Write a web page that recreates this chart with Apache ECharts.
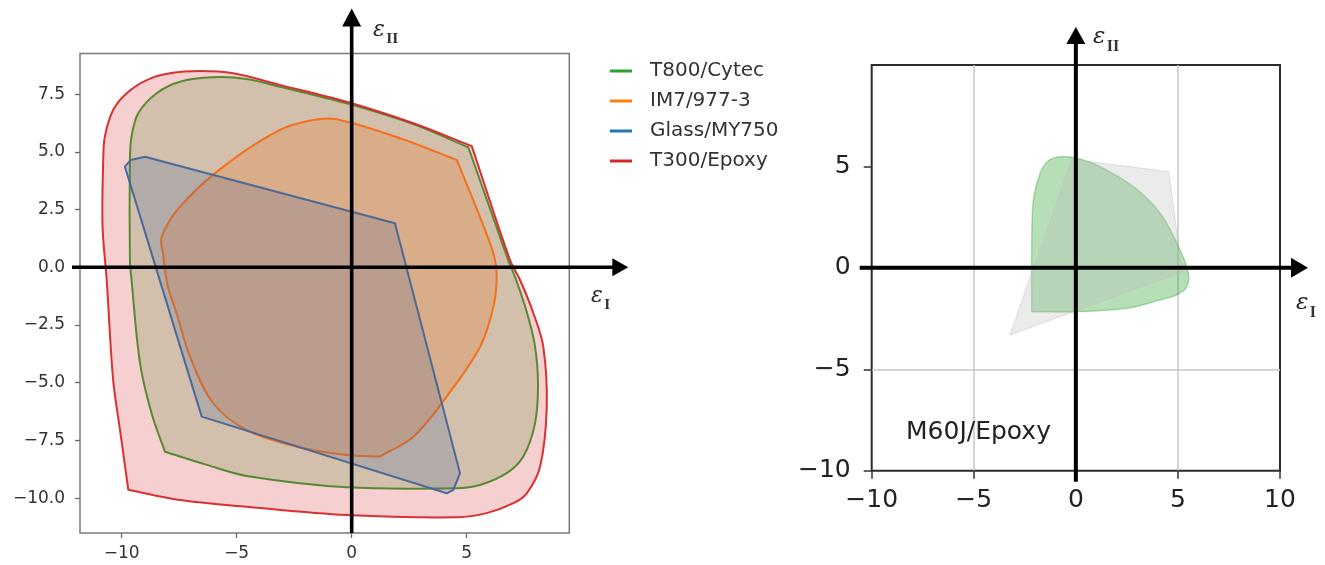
<!DOCTYPE html>
<html>
<head>
<meta charset="utf-8">
<script src="https://cdn.jsdelivr.net/npm/echarts@6/dist/echarts.min.js"></script>
<style>
  html, body { margin: 0; padding: 0; background: #ffffff; }
  #chart { width: 1325px; height: 565px; }
</style>
</head>
<body>
<div id="chart"></div>
<script>
// Failure envelopes in principal strain space (εI, εII), each as a closed outline of [εI, εII] points.
const t800Cytec = [
  [-9.64, 0.32], [-9.64, 4.65], [-9.57, 5.66], [-9.28, 6.67], [-8.48, 7.54], [-7.47, 8.04],
  [-6.02, 8.23], [-4.57, 8.16], [-3.12, 7.82], [-0.22, 7.1], [2.68, 6.2], [5.07, 5.2],
  [6.8, 0.32], [7.15, -0.55], [7.6, -1.9], [7.95, -3.3], [8.1, -5.0], [7.97, -6.76], [7.46, -8.2],
  [6.74, -8.92], [5.58, -9.43], [4.57, -9.57], [-0.22, -9.53], [-4.57, -9.04], [-6.3, -8.56],
  [-8.12, -7.99], [-8.7, -6.32], [-9.2, -4.16], [-9.57, -0.55]
];
const im7_977_3 = [
  [-8.26, 1.32], [-7.47, 2.62], [-5.58, 4.36], [-3.12, 5.95], [-1.67, 6.38], [-0.65, 6.41],
  [2.1, 5.59], [4.57, 4.65], [6.07, 0.89], [6.3, -0.26], [6.16, -1.71], [5.58, -3.44],
  [4.13, -5.6], [2.68, -7.34], [1.23, -8.2], [-0.22, -8.13], [-2.39, -7.77], [-4.57, -7.05],
  [-6.02, -5.89], [-7.03, -3.87], [-7.61, -1.99], [-8.0, -0.8], [-8.2, 0.6]
];
const glassMY750 = [
  [-9.86, 4.36], [-9.6, 4.65], [-8.99, 4.79], [1.88, 1.91], [4.71, -8.92], [4.42, -9.64],
  [4.13, -9.79], [-6.52, -6.47]
];
const t300Epoxy = [
  [-10.83, 1.76], [-10.8, 4.65], [-10.73, 5.66], [-10.37, 6.81], [-9.78, 7.54], [-8.91, 8.11],
  [-7.9, 8.4], [-6.6, 8.5], [-5.15, 8.4], [-3.12, 7.9], [-0.22, 7.17], [2.68, 6.24],
  [5.22, 5.25], [6.88, 0.32], [7.32, -0.55], [7.9, -1.99], [8.33, -3.44], [8.48, -6.04],
  [8.19, -8.64], [7.61, -9.79], [7.03, -10.22], [5.87, -10.65], [4.57, -10.83], [-0.22, -10.73],
  [-4.57, -10.37], [-7.47, -10.08], [-9.71, -9.64], [-10.07, -7.05], [-10.37, -4.88], [-10.65, -0.55]
];
const m60jEpoxy = [
  [-0.77, 5.48], [0.04, 5.4], [1.19, 4.99], [2.82, 4.0], [4.13, 2.69], [5.11, 0.88],
  [5.51, -0.27], [5.44, -0.93], [5.0, -1.3], [4.13, -1.58], [2.5, -1.99], [0.04, -2.16],
  [-2.16, -2.16], [-2.16, 1.38], [-2.08, 3.35], [-1.75, 4.66], [-1.35, 5.28]
];
const m60jEpoxyEnvelope = [
  [-3.23, -3.31], [-0.2, 5.35], [4.55, 4.74], [5.2, -0.2]
];

// Indices of sharp vertices in each outline (all other vertices are passed through smoothly).
const t800Corners = [11, 25];
const im7Corners = [7, 14];
const t300Corners = [12, 26];
const m60jCorners = [12];

const leftNames = ['T800/Cytec', 'IM7/977-3', 'Glass/MY750', 'T300/Epoxy'];
const leftXTicks = [-10, -5, 0, 5];
const leftYTicks = [-10, -7.5, -5, -2.5, 0, 2.5, 5, 7.5];
const rightXTicks = [-10, -5, 0, 5, 10];
const rightYTicks = [-10, -5, 0, 5];
const panelLabel = 'M60J/Epoxy';

const MINUS = '\u2212';
const fmtInt = v => (v < 0 ? MINUS : '') + Math.abs(v);
const fmtOne = v => (v < 0 ? MINUS : '') + Math.abs(v).toFixed(1);

function rgba(hex, a) {
  const n = parseInt(hex.slice(1), 16);
  return 'rgba(' + (n >> 16 & 255) + ',' + (n >> 8 & 255) + ',' + (n & 255) + ',' + a + ')';
}

// Closed path through pixel points: cubic segments whose handles follow the neighbour
// direction and scale with each segment's own length; sharp vertices keep straight handles.
function outlinePath(P, corners, smooth) {
  const n = P.length;
  const f = v => v.toFixed(2);
  const unit = (a, b) => { const dx = b[0] - a[0], dy = b[1] - a[1], l = Math.hypot(dx, dy) || 1; return [dx / l, dy / l]; };
  const tangent = i => unit(P[(i - 1 + n) % n], P[(i + 1) % n]);
  let d = 'M' + f(P[0][0]) + ' ' + f(P[0][1]);
  for (let i = 0; i < n; i++) {
    const j = (i + 1) % n;
    const p1 = P[i], p2 = P[j];
    if (!smooth) { d += ' L' + f(p2[0]) + ' ' + f(p2[1]); continue; }
    const L = Math.hypot(p2[0] - p1[0], p2[1] - p1[1]) / 3;
    const t1 = corners.has(i) ? unit(p1, p2) : tangent(i);
    const t2 = corners.has(j) ? unit(p1, p2) : tangent(j);
    const c1 = [p1[0] + t1[0] * L, p1[1] + t1[1] * L];
    const c2 = [p2[0] - t2[0] * L, p2[1] - t2[1] * L];
    d += ' C' + f(c1[0]) + ' ' + f(c1[1]) + ' ' + f(c2[0]) + ' ' + f(c2[1]) + ' ' + f(p2[0]) + ' ' + f(p2[1]);
  }
  return d + ' Z';
}

// One filled outline per series, drawn through the axis scales of its grid.
function outlineSeries(name, pts, color, opts) {
  const corners = new Set(opts.corners || []);
  return {
    type: 'custom',
    name: name,
    xAxisIndex: opts.grid,
    yAxisIndex: opts.grid,
    data: pts,
    encode: { x: 0, y: 1 },
    silent: true,
    z: opts.z,
    itemStyle: { color: color },
    renderItem: function (params, api) {
      if (params.dataIndex !== 0) return null;
      const points = pts.map(p => api.coord(p));
      return {
        type: 'path',
        shape: { pathData: outlinePath(points, corners, opts.smooth) },
        style: {
          fill: rgba(color, opts.fillAlpha),
          stroke: rgba(color, opts.strokeAlpha),
          lineWidth: opts.lineWidth,
          lineJoin: 'round'
        }
      };
    }
  };
}

const FONT = 'DejaVu Sans';
const leftGrid = { left: 80, top: 53.5, width: 489.3, height: 479.5 };
const rightGrid = { left: 871.7, top: 65, width: 408.3, height: 405.7 };

const chart = echarts.init(document.getElementById('chart'), null, { renderer: 'canvas' });

const rightSplit = { show: true, showMinLine: false, showMaxLine: false, lineStyle: { color: '#c6c6c6', width: 1.5 } };

const option = {
  animation: false,
  backgroundColor: '#ffffff',
  grid: [
    Object.assign({ show: true, borderColor: '#7a7a7a', borderWidth: 1.5, backgroundColor: 'transparent' }, leftGrid),
    Object.assign({ show: true, borderColor: '#2b2b2b', borderWidth: 2, backgroundColor: 'transparent' }, rightGrid)
  ],
  xAxis: [
    {
      gridIndex: 0, type: 'value', min: -11.81, max: 9.46,
      axisLine: { show: false, onZero: false },
      splitLine: { show: false },
      axisTick: { show: true, length: 5, customValues: leftXTicks, lineStyle: { color: '#6a6a6a', width: 1.3 } },
      axisLabel: { customValues: leftXTicks, formatter: fmtInt, margin: 12, fontFamily: FONT, fontSize: 17, color: '#333' }
    },
    {
      gridIndex: 1, type: 'value', min: -10, max: 10, interval: 5,
      axisLine: { show: false, onZero: false },
      splitLine: rightSplit,
      axisTick: { show: true, length: 8, customValues: rightXTicks, lineStyle: { color: '#333', width: 1.5 } },
      axisLabel: { customValues: rightXTicks, formatter: fmtInt, margin: 17, fontFamily: FONT, fontSize: 25, color: '#222' }
    }
  ],
  yAxis: [
    {
      gridIndex: 0, type: 'value', min: -11.51, max: 9.26,
      axisLine: { show: false, onZero: false },
      splitLine: { show: false },
      axisTick: { show: true, length: 5, customValues: leftYTicks, lineStyle: { color: '#6a6a6a', width: 1.3 } },
      axisLabel: { customValues: leftYTicks, formatter: fmtOne, margin: 15, fontFamily: FONT, fontSize: 17, color: '#333' }
    },
    {
      gridIndex: 1, type: 'value', min: -10, max: 10, interval: 5,
      axisLine: { show: false, onZero: false },
      splitLine: rightSplit,
      axisTick: { show: true, length: 8, customValues: rightYTicks, lineStyle: { color: '#333', width: 1.5 } },
      axisLabel: { customValues: rightYTicks, formatter: fmtInt, margin: 21, fontFamily: FONT, fontSize: 25, color: '#222' }
    }
  ],
  legend: {
    data: leftNames,
    orient: 'vertical',
    left: 605, top: 56,
    icon: 'rect',
    itemWidth: 22, itemHeight: 3, itemGap: 10,
    selectedMode: false,
    textStyle: { fontFamily: FONT, fontSize: 20, color: '#333', padding: [0, 0, 0, 13] }
  },
  series: [
    outlineSeries(leftNames[0], t800Cytec, '#2ca02c', { grid: 0, z: 2, fillAlpha: 0.22, strokeAlpha: 0.95, lineWidth: 2, smooth: true, corners: t800Corners }),
    outlineSeries(leftNames[1], im7_977_3, '#ff7f0e', { grid: 0, z: 3, fillAlpha: 0.22, strokeAlpha: 0.95, lineWidth: 2, smooth: true, corners: im7Corners }),
    outlineSeries(leftNames[2], glassMY750, '#1f77b4', { grid: 0, z: 4, fillAlpha: 0.22, strokeAlpha: 0.95, lineWidth: 2, smooth: false }),
    outlineSeries(leftNames[3], t300Epoxy, '#d62728', { grid: 0, z: 5, fillAlpha: 0.22, strokeAlpha: 0.95, lineWidth: 2, smooth: true, corners: t300Corners }),
    outlineSeries(panelLabel, m60jEpoxy, '#2ca02c', { grid: 1, z: 2, fillAlpha: 0.34, strokeAlpha: 0.35, lineWidth: 1.5, smooth: true, corners: m60jCorners }),
    outlineSeries(panelLabel + ' envelope', m60jEpoxyEnvelope, '#bdbdbd', { grid: 1, z: 3, fillAlpha: 0.3, strokeAlpha: 0.45, lineWidth: 1, smooth: false })
  ]
};
chart.setOption(option);

// Principal strain axes with arrow heads, crossing at the origin of each panel.
function arrowElements(from, tip, width, headLen, headHalf) {
  const dx = tip[0] - from[0], dy = tip[1] - from[1];
  const len = Math.hypot(dx, dy);
  const ux = dx / len, uy = dy / len;
  const bx = tip[0] - ux * headLen, by = tip[1] - uy * headLen;
  return [
    { type: 'line', z: 100, shape: { x1: from[0], y1: from[1], x2: bx + ux, y2: by + uy },
      style: { stroke: '#000', lineWidth: width } },
    { type: 'polygon', z: 100, shape: { points: [tip, [bx - uy * headHalf, by + ux * headHalf], [bx + uy * headHalf, by - ux * headHalf]] },
      style: { fill: '#000' } }
  ];
}

function epsLabel(x, y, sub, size) {
  return [
    { type: 'text', z: 101, x: x, y: y,
      style: { text: 'ε', font: 'italic ' + size + 'px "DejaVu Serif"', fill: '#222', verticalAlign: 'middle', align: 'left' } },
    { type: 'text', z: 101, x: x + size * 0.6, y: y + size * 0.42,
      style: { text: sub, font: 'bold ' + (size * 0.7).toFixed(1) + 'px "Liberation Serif"', fill: '#333', verticalAlign: 'middle', align: 'left' } }
  ];
}

const o0 = chart.convertToPixel({ xAxisIndex: 0, yAxisIndex: 0 }, [0, 0]);
const o1 = chart.convertToPixel({ xAxisIndex: 1, yAxisIndex: 1 }, [0, 0]);
const L0 = leftGrid.left, T0 = leftGrid.top, R0 = L0 + leftGrid.width, B0 = T0 + leftGrid.height;
const L1 = rightGrid.left, T1 = rightGrid.top, R1 = L1 + rightGrid.width, B1 = T1 + rightGrid.height;

const graphics = [].concat(
  arrowElements([L0 - 8, o0[1]], [R0 + 59, o0[1]], 3.6, 16, 9),
  arrowElements([o0[0], B0], [o0[0], T0 - 45], 3.6, 18, 9.5),
  arrowElements([L1 - 12, o1[1]], [R1 + 28, o1[1]], 4, 17, 10),
  arrowElements([o1[0], B1 + 11], [o1[0], T1 - 38], 4, 17, 9.5),
  epsLabel(373, 30, 'II', 22),
  epsLabel(591, 296, 'I', 22),
  epsLabel(1093, 37, 'II', 23),
  epsLabel(1296, 303, 'I', 23),
  [{ type: 'text', z: 101, x: 906, y: 420,
     style: { text: panelLabel, font: '25px "DejaVu Sans"', fill: '#222', verticalAlign: 'top', align: 'left' } }]
);
chart.setOption({ graphic: { elements: graphics } });
</script>
</body>
</html>
